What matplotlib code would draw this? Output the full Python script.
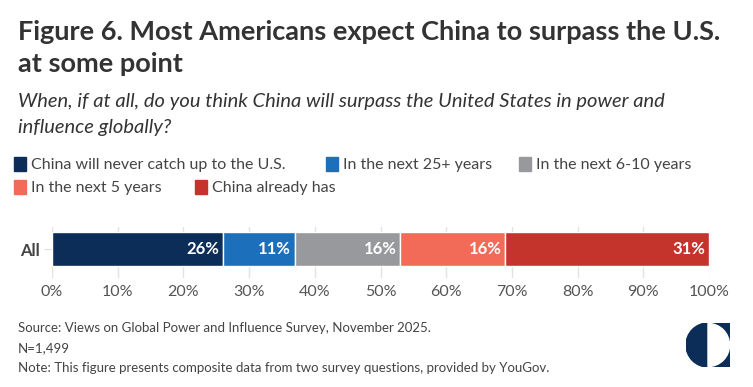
import matplotlib
matplotlib.use('Agg')
import matplotlib.pyplot as plt
from matplotlib.patches import Wedge, Rectangle

plt.rcParams['font.family'] = ['Lato', 'DejaVu Sans']

# ── DATA ──────────────────────────────────────────────────────────────────────
group = 'All'
categories = ['China will never catch up to the U.S.', 'In the next 25+ years',
              'In the next 6-10 years', 'In the next 5 years', 'China already has']
values = [26, 11, 16, 16, 31]
colors = ['#0b2d57', '#1c6fba', '#98999c', '#f26b59', '#c4342d']
ticks = [0, 10, 20, 30, 40, 50, 60, 70, 80, 90, 100]

W, H = 753, 387
fig = plt.figure(figsize=(W / 100, H / 100), dpi=100)
fig.patch.set_facecolor('white')

def px(x, y):
    return x / W, 1 - y / H

TXT = '#333333'

# ── TITLES ────────────────────────────────────────────────────────────────────
fig.text(*px(18, 32), 'Figure 6. Most Americans expect China to surpass the U.S.',
         fontsize=19.5, fontweight='bold', color=TXT, va='center')
fig.text(*px(18, 64), 'at some point', fontsize=19.5, fontweight='bold', color=TXT, va='center')
fig.text(*px(18, 101), 'When, if at all, do you think China will surpass the United States in power and',
         fontsize=14.5, style='italic', color=TXT, va='center')
fig.text(*px(18, 127), 'influence globally?', fontsize=14.5, style='italic', color=TXT, va='center')

# ── LEGEND ────────────────────────────────────────────────────────────────────
leg_pos = [(14, 164), (326, 164), (519, 164), (14, 187), (195, 187)]
for (lx, ly), lab, c in zip(leg_pos, categories, colors):
    fig.patches.append(Rectangle(px(lx, ly + 7), 12 / W, 14 / H, color=c,
                                 transform=fig.transFigure, figure=fig))
    fig.text(*px(lx + 17, ly + 1), lab, fontsize=11.5, color='#444444', va='center')

# ── BAR ───────────────────────────────────────────────────────────────────────
x0, x1, ytop, ybot = 52, 709, 227, 278
ax = fig.add_axes([x0 / W, 1 - ybot / H, (x1 - x0) / W, (ybot - ytop) / H])
left = 0
for v, c in zip(values, colors):
    ax.barh(0, v, left=left, height=1.0, color=c, edgecolor='white', linewidth=1, zorder=3)
    ax.text(left + v - 0.6, 0, f'{v}%', ha='right', va='center', color='white',
            fontsize=12, fontweight='bold', zorder=4)
    left += v

ax.set_xlim(0, 100)
ax.set_ylim(-(ybot - 249) / 34, (249 - ytop) / 34)
ax.set_xticks(ticks)
ax.set_xticklabels([f'{t}%' for t in ticks], fontsize=11.5, color='#555555')
ax.set_yticks([0])
ax.set_yticklabels([group], fontsize=12, fontweight='bold', color='#444444')
ax.tick_params(axis='x', length=0, pad=5)
ax.tick_params(axis='y', length=6, color='#dddddd', pad=3)
ax.grid(axis='x', color='#e3e3e3', linewidth=1, zorder=0)
for s in ax.spines.values():
    s.set_visible(False)

# ── FOOTER ────────────────────────────────────────────────────────────────────
foot = ['Source: Views on Global Power and Influence Survey, November 2025.',
        'N=1,499',
        'Note: This figure presents composite data from two survey questions, provided by YouGov.']
for i, line in enumerate(foot):
    fig.text(*px(18, 328 + 20 * i), line, fontsize=9.5, color='#444444', va='center')

# logo
lax = fig.add_axes([686 / W, 1 - 367 / H, 44 / W, 44 / H])
lax.set_xlim(-1, 1)
lax.set_ylim(-1, 1)
lax.axis('off')
navy = '#0b2d57'
lax.add_patch(Wedge((0, 0), 1, 90, 270, color=navy))
lax.add_patch(Rectangle((0, -1), 1, 2, color=navy))
lax.add_patch(Wedge((0, 0), 0.98, -90, 90, color='white'))

fig.savefig('out.png', dpi=100)
